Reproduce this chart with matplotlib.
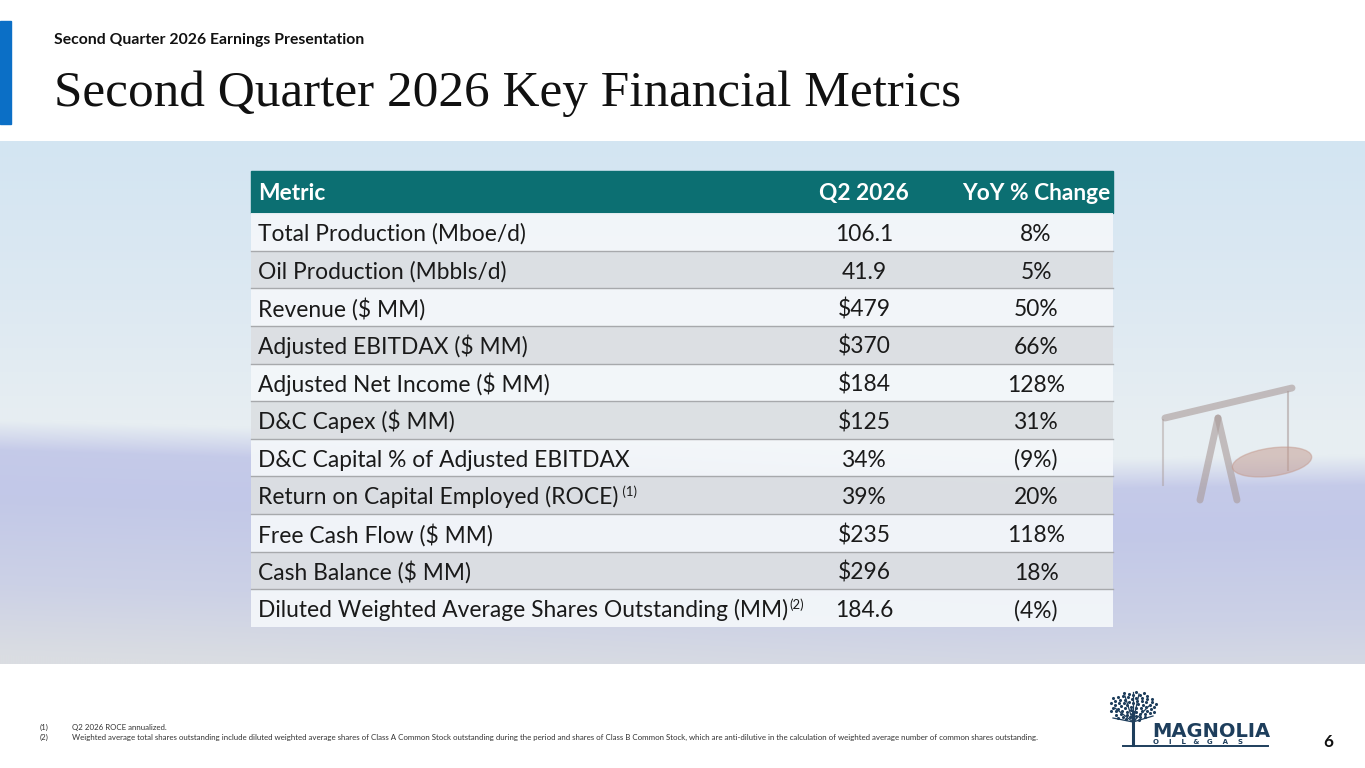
#!/usr/bin/env python3

import numpy as np
import matplotlib
matplotlib.use('Agg')
import matplotlib.pyplot as plt
from matplotlib.patches import Rectangle, Ellipse
from matplotlib.colors import to_rgb


deck_title = 'Second Quarter 2026 Earnings Presentation'
slide_title = 'Second Quarter 2026 Key Financial Metrics'
col_headers = ['Metric', 'Q2 2026', 'YoY % Change']

metrics = [
    'Total Production (Mboe/d)',
    'Oil Production (Mbbls/d)',
    'Revenue ($ MM)',
    'Adjusted EBITDAX ($ MM)',
    'Adjusted Net Income ($ MM)',
    'D&C Capex ($ MM)',
    'D&C Capital % of Adjusted EBITDAX',
    'Return on Capital Employed (ROCE)',
    'Free Cash Flow ($ MM)',
    'Cash Balance ($ MM)',
    'Diluted Weighted Average Shares Outstanding (MM)',
]
q2_values = ['106.1', '41.9', '$479', '$370', '$184', '$125', '34%', '39%',
             '$235', '$296', '184.6']
yoy_changes = ['8%', '5%', '50%', '66%', '128%', '31%', '(9%)', '20%',
               '118%', '18%', '(4%)']
note_refs = ['', '', '', '', '', '', '', ' (1)', '', '', '(2)']

footnotes = [
    ('(1)', 'Q2 2026 ROCE annualized.'),
    ('(2)', 'Weighted average total shares outstanding include diluted weighted '
            'average shares of Class A Common Stock outstanding during the period '
            'and shares of Class B Common Stock, which are anti-dilutive in the '
            'calculation of weighted average number of common shares outstanding.'),
]
page_number = '6'

SANS = ['Lato', 'DejaVu Sans']
SERIF = ['Liberation Serif', 'DejaVu Serif']
TEAL = '#0c6f72'
NAVY = '#1e3e5c'


def px(v):
    # pixel size -> points at 100 dpi
    return v * 72 / 100


def draw_background(ax):
    top, bot = 141, 664
    ys = np.arange(top, bot) + 0.5
    xs = np.arange(0, 1365, 5) + 2.5
    sky = [(141, '#d3e5f2'), (300, '#dde9f2'), (420, '#e7eef2')]
    field = [(0, '#c6cbe9'), (60, '#c2c8e8'), (150, '#ccd1e6'),
             (220, '#dadde2')]
    sky_y = [s[0] for s in sky]
    sky_c = np.array([to_rgb(s[1]) for s in sky])
    fld_d = [f[0] for f in field]
    fld_c = np.array([to_rgb(f[1]) for f in field])
    # horizon (top of the flowers) sits lower on the right of the slide
    horizon = np.interp(xs, [0, 500, 1000, 1365], [435, 450, 475, 470])
    img = np.zeros((len(ys), len(xs), 3))
    for j, h in enumerate(horizon):
        d = ys - h
        blend = np.clip((d + 15) / 30, 0, 1)[:, None]
        s = np.stack([np.interp(ys, sky_y, sky_c[:, k]) for k in range(3)], -1)
        f = np.stack([np.interp(d, fld_d, fld_c[:, k]) for k in range(3)], -1)
        img[:, j, :] = s * (1 - blend) + f * blend
    ax.imshow(img, extent=(0, 1365, bot, top), aspect='auto', zorder=0,
              interpolation='bilinear')

    # faint pump jack on the right
    jack = dict(color='#a99a98', lw=5, alpha=0.6, solid_capstyle='round', zorder=1)
    ax.plot([1165, 1292], [418, 388], **jack)
    ax.plot([1218, 1200], [418, 500], **jack)
    ax.plot([1218, 1237], [418, 500], **jack)
    ax.plot([1288, 1288], [392, 470], color='#a99a98', lw=1.5, alpha=0.55, zorder=1)
    ax.plot([1163, 1163], [420, 485], color='#a99a98', lw=1.5, alpha=0.45, zorder=1)
    ax.add_patch(Ellipse((1272, 462), 80, 28, angle=-8, color='#c49a8e',
                         alpha=0.5, zorder=1))


def draw_logo(ax):
    cx, base = 1133, 745
    ax.plot([cx, cx], [base, 712], color=NAVY, lw=2.2, zorder=5)
    for dx, dy in [(-18, -14), (16, -16), (-8, -26), (6, -28), (20, -6),
                   (-20, -4), (0, -30)]:
        ax.plot([cx, cx + dx], [722, 722 + dy], color=NAVY, lw=0.9, zorder=5)
    # crown of small leaf dots
    n = np.arange(1, 70)
    r = np.sqrt(n / n.max())
    a = n * 2.39996
    ax.scatter(cx + 24 * r * np.cos(a), 706 + 15 * r * np.sin(a), s=5,
               color=NAVY, zorder=5, linewidths=0)
    ax.text(1152, 737, 'MAGNOLIA', color=NAVY, fontsize=px(19.5),
            fontweight='heavy', family=['DejaVu Sans'], va='baseline',
            ha='left', zorder=5)
    ax.text(1153, 743.5, 'O    I    L   &   G    A    S', color=NAVY,
            fontsize=px(7), fontweight='bold', family=['DejaVu Sans'],
            va='baseline', zorder=5)
    ax.plot([1123, 1268], [746, 746], color=NAVY, lw=1.4, zorder=5)


def main():
    fig = plt.figure(figsize=(13.65, 7.68), dpi=100)
    ax = fig.add_axes([0, 0, 1, 1])
    ax.set_xlim(0, 1365)
    ax.set_ylim(768, 0)
    ax.axis('off')

    draw_background(ax)

    # header
    ax.add_patch(Rectangle((0, 21), 11, 103, color='#0b6fc6', zorder=2))
    ax.text(54, 44, deck_title, fontsize=px(15.8), fontweight='bold', family=SANS,
            va='baseline', ha='left', color='#111111')
    ax.text(54, 106, slide_title, fontsize=px(51.2), family=SERIF,
            va='baseline', ha='left', color='#111111')

    # table
    left, right = 251, 1113
    head_top, head_bot = 171, 213
    row_h = (627 - head_bot) / len(metrics)
    x_label = 258
    x_q2 = 864
    x_yoy = 1036
    fs = px(22.8)

    ax.add_patch(Rectangle((left, head_top), right - left, head_bot - head_top,
                           color=TEAL, zorder=3))
    hy = head_top + 29
    for x, txt, ha in zip([x_label, x_q2, x_yoy], col_headers,
                          ['left', 'center', 'center']):
        ax.text(x, hy, txt, color='white', fontsize=fs, fontweight='bold',
                family=SANS, va='baseline', ha=ha, zorder=4)

    fig.canvas.draw()
    renderer = fig.canvas.get_renderer()
    inv = ax.transData.inverted()

    for i, (m, v, c, ref) in enumerate(zip(metrics, q2_values, yoy_changes, note_refs)):
        top = head_bot + i * row_h
        fill = '#f4f7fa' if i % 2 == 0 else '#dcdfe2'
        ax.add_patch(Rectangle((left, top), right - left, row_h, facecolor=fill,
                               alpha=0.93, edgecolor='none', zorder=3))
        if i > 0:
            ax.plot([left, right], [top, top], color='#a7a9ac', lw=1, zorder=4)
        by = top + 28
        t = ax.text(x_label, by, m, fontsize=fs, family=SANS, va='baseline',
                    ha='left', color='#1a1a1a', zorder=5)
        if ref:
            bb = t.get_window_extent(renderer)
            x_end = inv.transform((bb.x1, bb.y1))[0]
            ax.text(x_end + 1, by - 8, ref, fontsize=px(13), family=SANS,
                    va='baseline', ha='left', color='#1a1a1a', zorder=5)
        ax.text(x_q2, by, v, fontsize=fs, family=SANS, va='baseline', ha='center',
                color='#1a1a1a', zorder=5)
        ax.text(x_yoy, by, c, fontsize=fs, family=SANS, va='baseline', ha='center',
                color='#1a1a1a', zorder=5)

    # footnotes
    for k, (mark, note) in enumerate(footnotes):
        y = 730 + k * 9.5
        ax.text(40, y, mark, fontsize=px(7.9), family=SANS, va='baseline',
                color='#333333')
        ax.text(72, y, note, fontsize=px(7.9), family=SANS, va='baseline',
                color='#333333')

    draw_logo(ax)
    ax.text(1328, 747, page_number, fontsize=px(17), fontweight='bold',
            family=SANS, va='baseline', ha='center', color='#111111')

    fig.savefig('out.png', dpi=100)


if __name__ == '__main__':
    main()
